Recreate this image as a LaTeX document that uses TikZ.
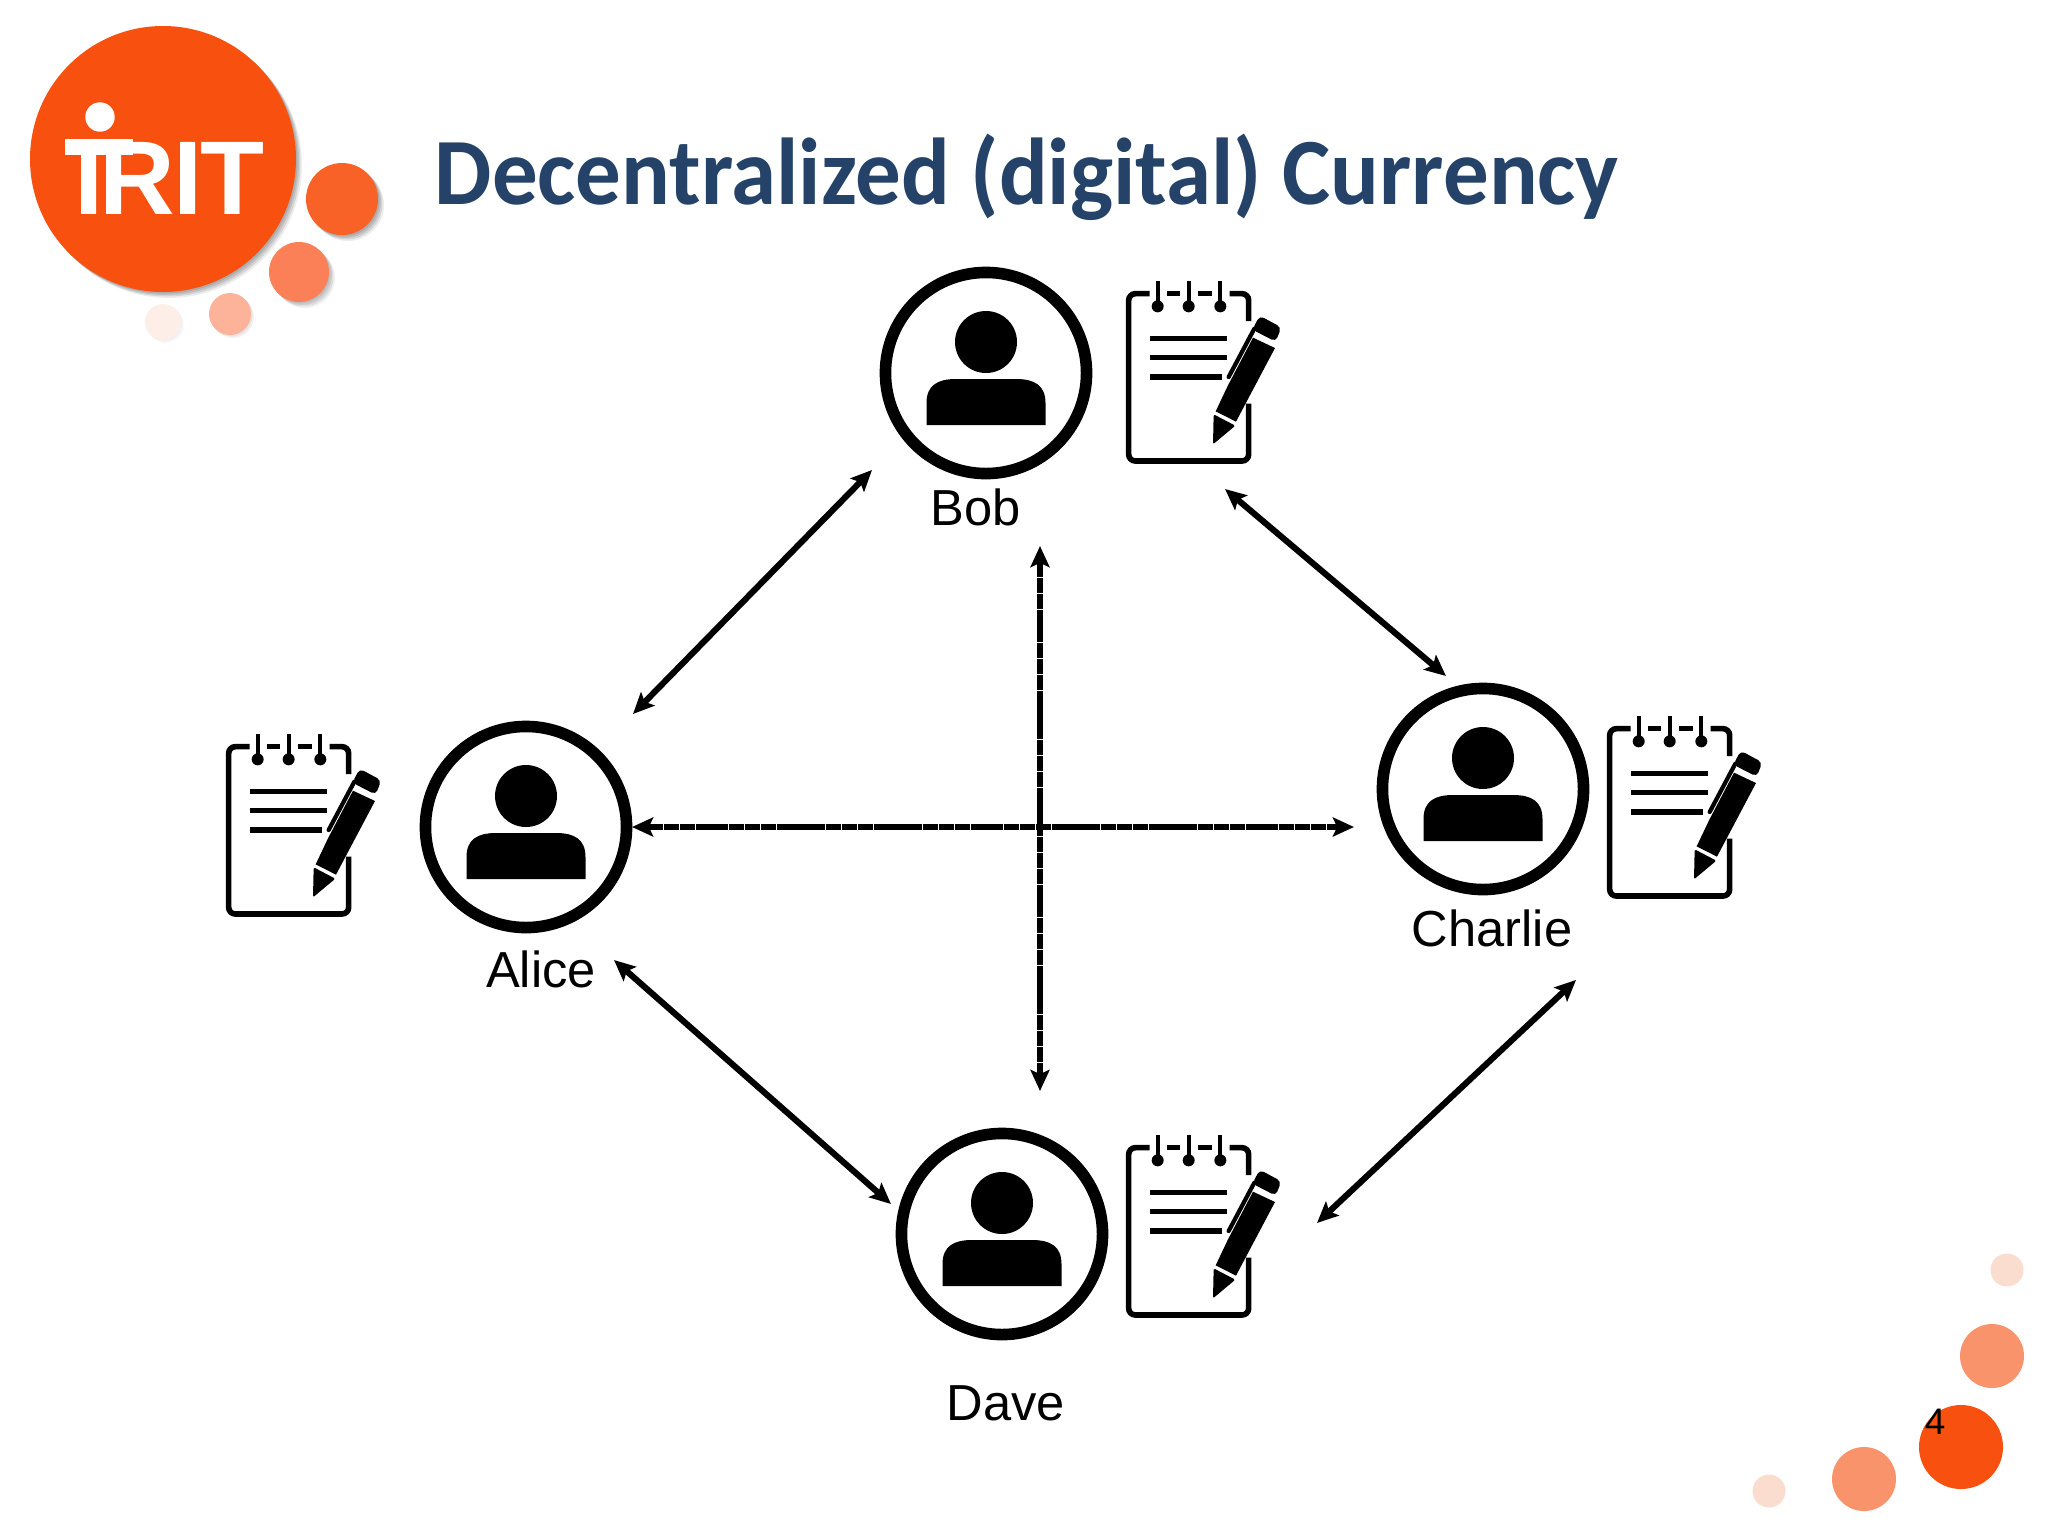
\documentclass[tikz,border=0pt]{standalone}
\usepackage{fontspec}
\setmainfont{Liberation Sans}
\newfontfamily\titlefont{Carlito}[FakeStretch=0.958,BoldFeatures={FakeStretch=0.958}]
\usetikzlibrary{arrows.meta}
\definecolor{irit}{HTML}{F8500F}
\definecolor{iritb}{HTML}{F96226}
\definecolor{iritc}{HTML}{FB8058}
\definecolor{iritd}{HTML}{FDB29A}
\definecolor{irite}{HTML}{FDEEE8}
\definecolor{dotmid}{HTML}{F9936B}
\definecolor{dotpale}{HTML}{FBDDCF}
\definecolor{titleblue}{HTML}{254369}
\tikzset{
  dot/.style={fill=#1,draw=none},
  ring/.style={circle,draw=black,line width=3.3pt,minimum size=2.01cm,inner sep=0pt,fill=white},
  lbl/.style={inner sep=0pt,font=\fontsize{14.4}{16}\selectfont},
  padline/.style={line width=1.6pt},
  link/.style={line width=1.75pt,{Stealth[length=6pt,width=5.4pt,inset=1.2pt]}-{Stealth[length=6pt,width=5.4pt,inset=1.2pt]}},
  longlink/.style={link,line width=1.85pt,dash pattern=on 4.4pt off 0.2pt},
  person/.pic={
    \fill (0,-31) circle (31);
    \fill (-59.5,52) -- (-59.5,30) .. controls (-59.5,12) and (-48,6) .. (-30,6) -- (30,6) .. controls (48,6) and (59.5,12) .. (59.5,30) -- (59.5,52) -- cycle;
  },
  notepad/.pic={
    \begin{scope}[scale=1/3,shift={(-797,-122)}]
      \draw[padline,rounded corners=1.9pt] (868,130) -- (805,130) -- (805,632) -- (1165,632) -- (1165,460);
      \draw[padline,rounded corners=1.9pt] (1108,130) -- (1165,130) -- (1165,212);
      \draw[padline] (920,130) -- (960,130);
      \draw[padline] (1013,130) -- (1055,130);
      \foreach \rx in {892,985,1080}{
        \draw[line width=1.2pt] (\rx,92) -- (\rx,168);
        \fill (\rx,168) circle (18);
      }
      \draw[padline] (870,264) -- (1100,264);
      \draw[padline] (870,322) -- (1100,322);
      \draw[padline] (870,380) -- (1086,380);
      \fill[rounded corners=0.4pt] (1058,582) -- (1060,492) -- (1125,526) -- cycle;
      \fill (1066,483) -- (1103,405) -- (1178,262) -- (1244,293) -- (1127,514) -- cycle;
      \draw[line width=1.2pt,line cap=round] (1105,380) -- (1182,235);
      \fill[rounded corners=1.3pt] (1176,238) -- (1198,196) -- (1263,231) -- (1246,274) -- cycle;
    \end{scope}
  }
}
\begin{document}
\begin{tikzpicture}[x=0.01cm,y=-0.01cm]
\useasboundingbox (0,0) rectangle (2048,1536);
% logo shadows
\foreach \d/\o in {1.5/.10,3/.10,4.5/.10,6/.07}{
  \fill[black,opacity=\o] (163+\d,159+\d) circle (133);
  \fill[black,opacity=\o] (342+\d,199+\d) circle (36);
  \fill[black,opacity=\o*0.8] (299+\d,272+\d) circle (30);
}
\foreach \d/\o in {1.5/.06,3/.05}{
  \fill[black,opacity=\o] (230+\d,314+\d) circle (21);
  \fill[black,opacity=\o*0.5] (163+\d,322+\d) circle (18);
}
% logo
\fill[dot=irite] (163,322) circle (18);
\fill[dot=iritd] (230,314) circle (21);
\fill[dot=iritc] (299,272) circle (30);
\fill[dot=iritb] (342,199) circle (36);
\fill[dot=irit] (163,159) circle (133);
\fill[white] (100,117) circle (14.7);
\fill[white] (65,139) rectangle (133,155);
\node[anchor=base west,inner sep=0pt,text=white,font=\fontsize{29.8}{30}\selectfont\bfseries] (logotext) at (74,214) {I\kern-1.4ptR\kern-0.2ptI\kern-0.8ptT};
% title
\node[anchor=base west,inner sep=0pt,text=titleblue,font=\fontsize{27}{30}\titlefont\bfseries] (title) at (434,204) {Decentralized (digital) Currency};
% corner dots
\fill[dot=dotpale] (2007,1270) circle (16.5);
\fill[dot=dotmid] (1992,1356) circle (32);
\fill[dot=irit] (1961,1447) circle (42);
\fill[dot=dotmid] (1864,1479) circle (32);
\fill[dot=dotpale] (1769,1491) circle (16.5);
\node[inner sep=0pt,font=\fontsize{10.5}{12}\selectfont] (pagenum) at (1935,1422) {4};
% people
\node[ring] (bob) at (986,373) {};
\node[ring] (alice) at (526,827) {};
\node[ring] (charlie) at (1483,789) {};
\node[ring] (dave) at (1002,1234) {};
\pic at (bob) {person};
\pic at (alice) {person};
\pic at (charlie) {person};
\pic at (dave) {person};
% notepads
\pic at (1126,291) {notepad};
\pic at (226,744) {notepad};
\pic at (1607,726) {notepad};
\pic at (1126,1145) {notepad};
% labels
\node[lbl] (boblabel) at (976,507) {Bob};
\node[lbl] (alicelabel) at (541,969) {Alice};
\node[lbl] (charlielabel) at (1492,928) {Charlie};
\node[lbl] (davelabel) at (1006,1403) {Dave};
% connector ends
\coordinate (abA) at (633,714);
\coordinate (abB) at (872,470);
\coordinate (bcB) at (1225,489);
\coordinate (bcC) at (1446,676);
\coordinate (adA) at (614,960);
\coordinate (adD) at (891,1204);
\coordinate (dcD) at (1317,1223);
\coordinate (dcC) at (1576,980);
\coordinate (vT) at (1040,546);
\coordinate (vB) at (1040,1091);
\coordinate (hL) at (632,827);
\coordinate (hR) at (1354,827);
\draw[link] (abA) -- (abB);
\draw[link] (bcB) -- (bcC);
\draw[link] (adA) -- (adD);
\draw[link] (dcD) -- (dcC);
\draw[longlink] (vT) -- (vB);
\draw[longlink] (hL) -- (hR);
\end{tikzpicture}
\end{document}
